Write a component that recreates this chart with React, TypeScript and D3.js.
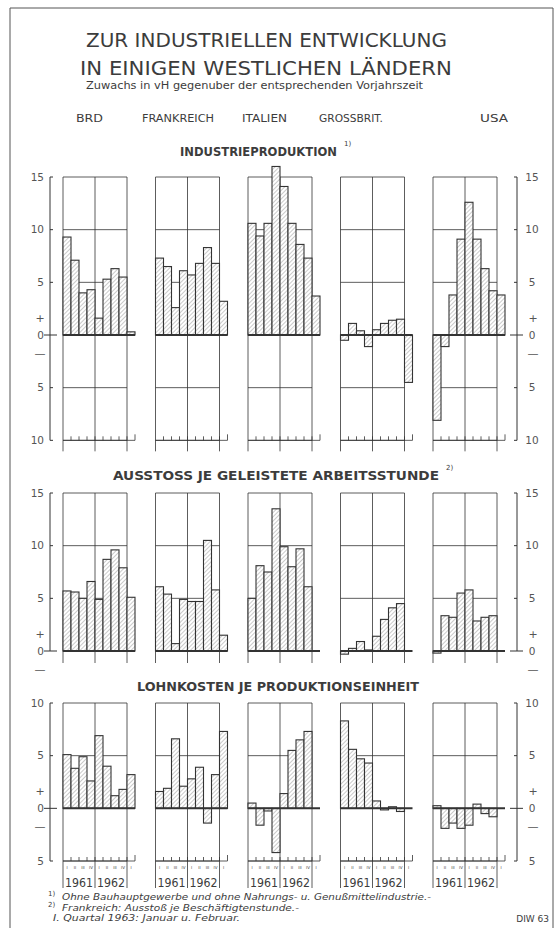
import React from "react";
import * as d3 from "d3";

// Zuwachs in vH gegenüber der entsprechenden Vorjahreszeit
const countries = ["BRD", "FRANKREICH", "ITALIEN", "GROSSBRIT.", "USA"];
const years = ["1961", "1962"];
const quarters = ["I", "II", "III", "IV", "I", "II", "III", "IV", "I"];

const industrieproduktion = [
  [9.3, 7.1, 4.0, 4.3, 1.6, 5.3, 6.3, 5.5, 0.3],
  [7.3, 6.5, 2.6, 6.1, 5.7, 6.8, 8.3, 6.8, 3.2],
  [10.6, 9.4, 10.6, 16.0, 14.1, 10.6, 8.6, 7.3, 3.7],
  [-0.5, 1.1, 0.4, -1.1, 0.5, 1.1, 1.4, 1.5, -4.5],
  [-8.1, -1.1, 3.8, 9.1, 12.6, 9.1, 6.3, 4.2, 3.8],
];

const ausstoss = [
  [5.7, 5.6, 5.0, 6.6, 4.9, 8.7, 9.6, 7.9, 5.1],
  [6.1, 5.4, 0.7, 4.9, 4.7, 4.7, 10.5, 5.8, 1.5],
  [5.0, 8.1, 7.5, 13.5, 9.9, 8.0, 9.7, 6.1],
  [-0.3, 0.25, 0.9, 0.1, 1.4, 3.0, 4.1, 4.5],
  [-0.2, 3.35, 3.2, 5.5, 5.8, 2.85, 3.2, 3.35],
];

const lohnkosten = [
  [5.1, 3.8, 4.9, 2.6, 6.9, 4.0, 1.2, 1.8, 3.2],
  [1.6, 1.9, 6.6, 2.1, 2.8, 3.9, -1.4, 3.2, 7.3],
  [0.5, -1.6, -0.25, -4.2, 1.4, 5.5, 6.5, 7.3],
  [8.3, 5.6, 4.7, 4.3, 0.7, -0.15, 0.15, -0.3],
  [0.25, -1.9, -1.4, -1.9, -1.6, 0.4, -0.5, -0.8],
];

const footnotes = [
  "Ohne Bauhauptgewerbe und ohne Nahrungs- u. Genußmittelindustrie.-",
  "Frankreich: Ausstoß je Beschäftigtenstunde.-",
  "I. Quartal 1963: Januar u. Februar.",
];

// layout
const W = 556;
const H = 928;
const unit = 158 / 15; // px je vH
const ink = "#333";
const txt = "#3c3c3c";
const font = "DejaVu Sans, sans-serif";
const condensed = "DejaVu Sans Condensed, sans-serif";
const countrySpan = [[76, 103], [142, 214], [242, 287], [319, 383], [480, 508]];

const sections = [
  { title: "INDUSTRIEPRODUKTION", note: "1)", data: industrieproduktion, domain: [-10, 15], top: 177, titleY: 156, span: [180, 337], bottom: "ticks" },
  { title: "AUSSTOSS JE GELEISTETE ARBEITSSTUNDE", note: "2)", data: ausstoss, domain: [0, 15], top: 493, titleY: 480, span: [113, 439], bottom: "open" },
  { title: "LOHNKOSTEN JE PRODUKTIONSEINHEIT", note: "", data: lohnkosten, domain: [-5, 10], top: 703, titleY: 691, span: [137, 419], bottom: "years" },
];

const panelX = d3.scaleLinear().domain([0, countries.length - 1]).range([63, 433]);
const barX = d3.scaleBand<number>().domain(d3.range(quarters.length)).range([0, 72]);
const boxW = barX(8)!;
const leftAxis = 50;
const rightAxis = 517;

function Section({ s }: { s: typeof sections[number] }) {
  const [min, max] = s.domain;
  const y = d3.scaleLinear().domain([min, max]).range([s.top + (max - min) * unit, s.top]);
  const ticks = d3.range(min, max + 1, 5);
  const y0 = y(0);
  const yBottom = y(min);
  const lineEnd = s.bottom === "ticks" ? yBottom + 11 : s.bottom === "open" ? y0 + 12 : 888;

  return (
    <g>
      <text x={s.span[0]} y={s.titleY} fontSize={11.5} fontWeight="bold" fontFamily={condensed} fill={txt}
        textLength={s.span[1] - s.span[0]} lengthAdjust="spacingAndGlyphs">{s.title}</text>
      {s.note && <text x={s.span[1] + 7} y={s.titleY - 10} fontSize={7} fill={txt}>{s.note}</text>}

      {/* Achsen links und rechts */}
      {[leftAxis, rightAxis].map((ax, k) => {
        const dir = k === 0 ? 1 : -1;
        const lx = k === 0 ? 44 : 532;
        return (
          <g key={k}>
            <line x1={ax} x2={ax} y1={s.top} y2={yBottom} stroke={ink} strokeWidth={1} />
            {ticks.map(t => (
              <g key={t}>
                <line x1={t === 0 ? ax - 6 * dir : ax} x2={ax + (t === 0 ? 7 : 3) * dir} y1={y(t)} y2={y(t)} stroke={ink} strokeWidth={1} />
                <text x={lx} y={y(t)} dy="0.36em" fontSize={10.5} fill="#555"
                  textAnchor={k === 0 ? "end" : "middle"}>{Math.abs(t)}</text>
              </g>
            ))}
            <text x={k === 0 ? 40 : 533} y={y(1.6)} dy="0.36em" fontSize={11} fill="#555" textAnchor="middle">+</text>
            <text x={k === 0 ? 40 : 533} y={y(-1.7)} dy="0.36em" fontSize={11} fill="#555" textAnchor="middle">—</text>
          </g>
        );
      })}

      {countries.map((c, ci) => {
        const x0 = panelX(ci);
        const vals = s.data[ci];
        return (
          <g key={c}>
            {/* Raster */}
            {ticks.filter(t => t !== 0).map(t => (
              <line key={t} x1={x0} x2={x0 + boxW} y1={y(t)} y2={y(t)} stroke={ink} strokeWidth={0.8} />
            ))}
            {[0, boxW / 2, boxW].map(dx => (
              <line key={dx} x1={x0 + dx} x2={x0 + dx} y1={s.top} y2={lineEnd} stroke={ink} strokeWidth={0.8} />
            ))}
            {/* Säulen */}
            {vals.map((v, i) => (
              <rect key={i} x={x0 + barX(i)!} width={barX.bandwidth()}
                y={y(Math.max(0, v))} height={Math.abs(y(v) - y0)}
                fill="url(#hatch)" stroke={ink} strokeWidth={1.1} />
            ))}
            <line x1={x0} x2={x0 + 72} y1={y0} y2={y0} stroke={ink} strokeWidth={2} />
            {s.bottom !== "open" && (
              <g>
                <line x1={x0} x2={x0 + 72} y1={yBottom} y2={yBottom} stroke={ink} strokeWidth={0.8} />
                {d3.range(1, quarters.length + 1).map(i => (
                  <line key={i} x1={x0 + barX.bandwidth() * i} x2={x0 + barX.bandwidth() * i}
                    y1={yBottom} y2={yBottom - (i === 9 ? 6 : 4)} stroke={ink} strokeWidth={0.8} />
                ))}
              </g>
            )}
            {s.bottom === "years" && (
              <g>
                {quarters.map((q, i) => (
                  <text key={i} x={x0 + barX(i)! + barX.bandwidth() / 2} y={869} fontSize={4}
                    textAnchor="middle" fill={txt}>{q}</text>
                ))}
                {years.map((yr, k) => (
                  <text key={yr} x={x0 + boxW / 4 + (k * boxW) / 2} y={887} fontSize={13}
                    fontFamily={condensed} textAnchor="middle" fill={txt}
                    textLength={28} lengthAdjust="spacingAndGlyphs">{yr}</text>
                ))}
              </g>
            )}
          </g>
        );
      })}
    </g>
  );
}

export default function App() {
  return (
    <svg width={W} height={H} viewBox={`0 0 ${W} ${H}`} fontFamily={font}
      style={{ position: "absolute", left: 0, top: 0, background: "#fff" }}>
      <defs>
        <pattern id="hatch" patternUnits="userSpaceOnUse" width={3} height={3} patternTransform="rotate(45)">
          <rect width={3} height={3} fill="#fff" />
          <line x1={0} y1={0} x2={0} y2={3} stroke="#8a8a8a" strokeWidth={0.9} />
        </pattern>
      </defs>
      <rect x={0} y={0} width={W} height={H} fill="#fff" />
      <path d={`M10,${H + 5} V8 H553 V${H + 5}`} fill="none" stroke="#555" strokeWidth={1} />

      <text x={86} y={47} fontSize={19} fill={txt} textLength={361} lengthAdjust="spacingAndGlyphs">
        ZUR INDUSTRIELLEN ENTWICKLUNG
      </text>
      <text x={80} y={75} fontSize={19} fill={txt} textLength={372} lengthAdjust="spacingAndGlyphs">
        IN EINIGEN WESTLICHEN LÄNDERN
      </text>
      <text x={86} y={89} fontSize={10} fill={txt} textLength={337} lengthAdjust="spacingAndGlyphs">
        Zuwachs in vH gegenuber der entsprechenden Vorjahrszeit
      </text>
      {countries.map((c, i) => (
        <text key={c} x={countrySpan[i][0]} y={122} fontSize={10.5} fill={txt}
          textLength={countrySpan[i][1] - countrySpan[i][0]} lengthAdjust="spacingAndGlyphs">{c}</text>
      ))}

      {sections.map(s => <Section key={s.title} s={s} />)}

      <text x={48} y={896} fontSize={7} fill={txt}>1)</text>
      <text x={62} y={900} fontSize={9} fontStyle="italic" fill={txt} textLength={369} lengthAdjust="spacingAndGlyphs">{footnotes[0]}</text>
      <text x={48} y={907} fontSize={7} fill={txt}>2)</text>
      <text x={62} y={911} fontSize={9} fontStyle="italic" fill={txt} textLength={237} lengthAdjust="spacingAndGlyphs">{footnotes[1]}</text>
      <text x={53} y={921} fontSize={9} fontStyle="italic" fill={txt} textLength={187} lengthAdjust="spacingAndGlyphs">{footnotes[2]}</text>
      <text x={549} y={922} fontSize={9} fill={txt} textAnchor="end">DIW 63</text>
    </svg>
  );
}
